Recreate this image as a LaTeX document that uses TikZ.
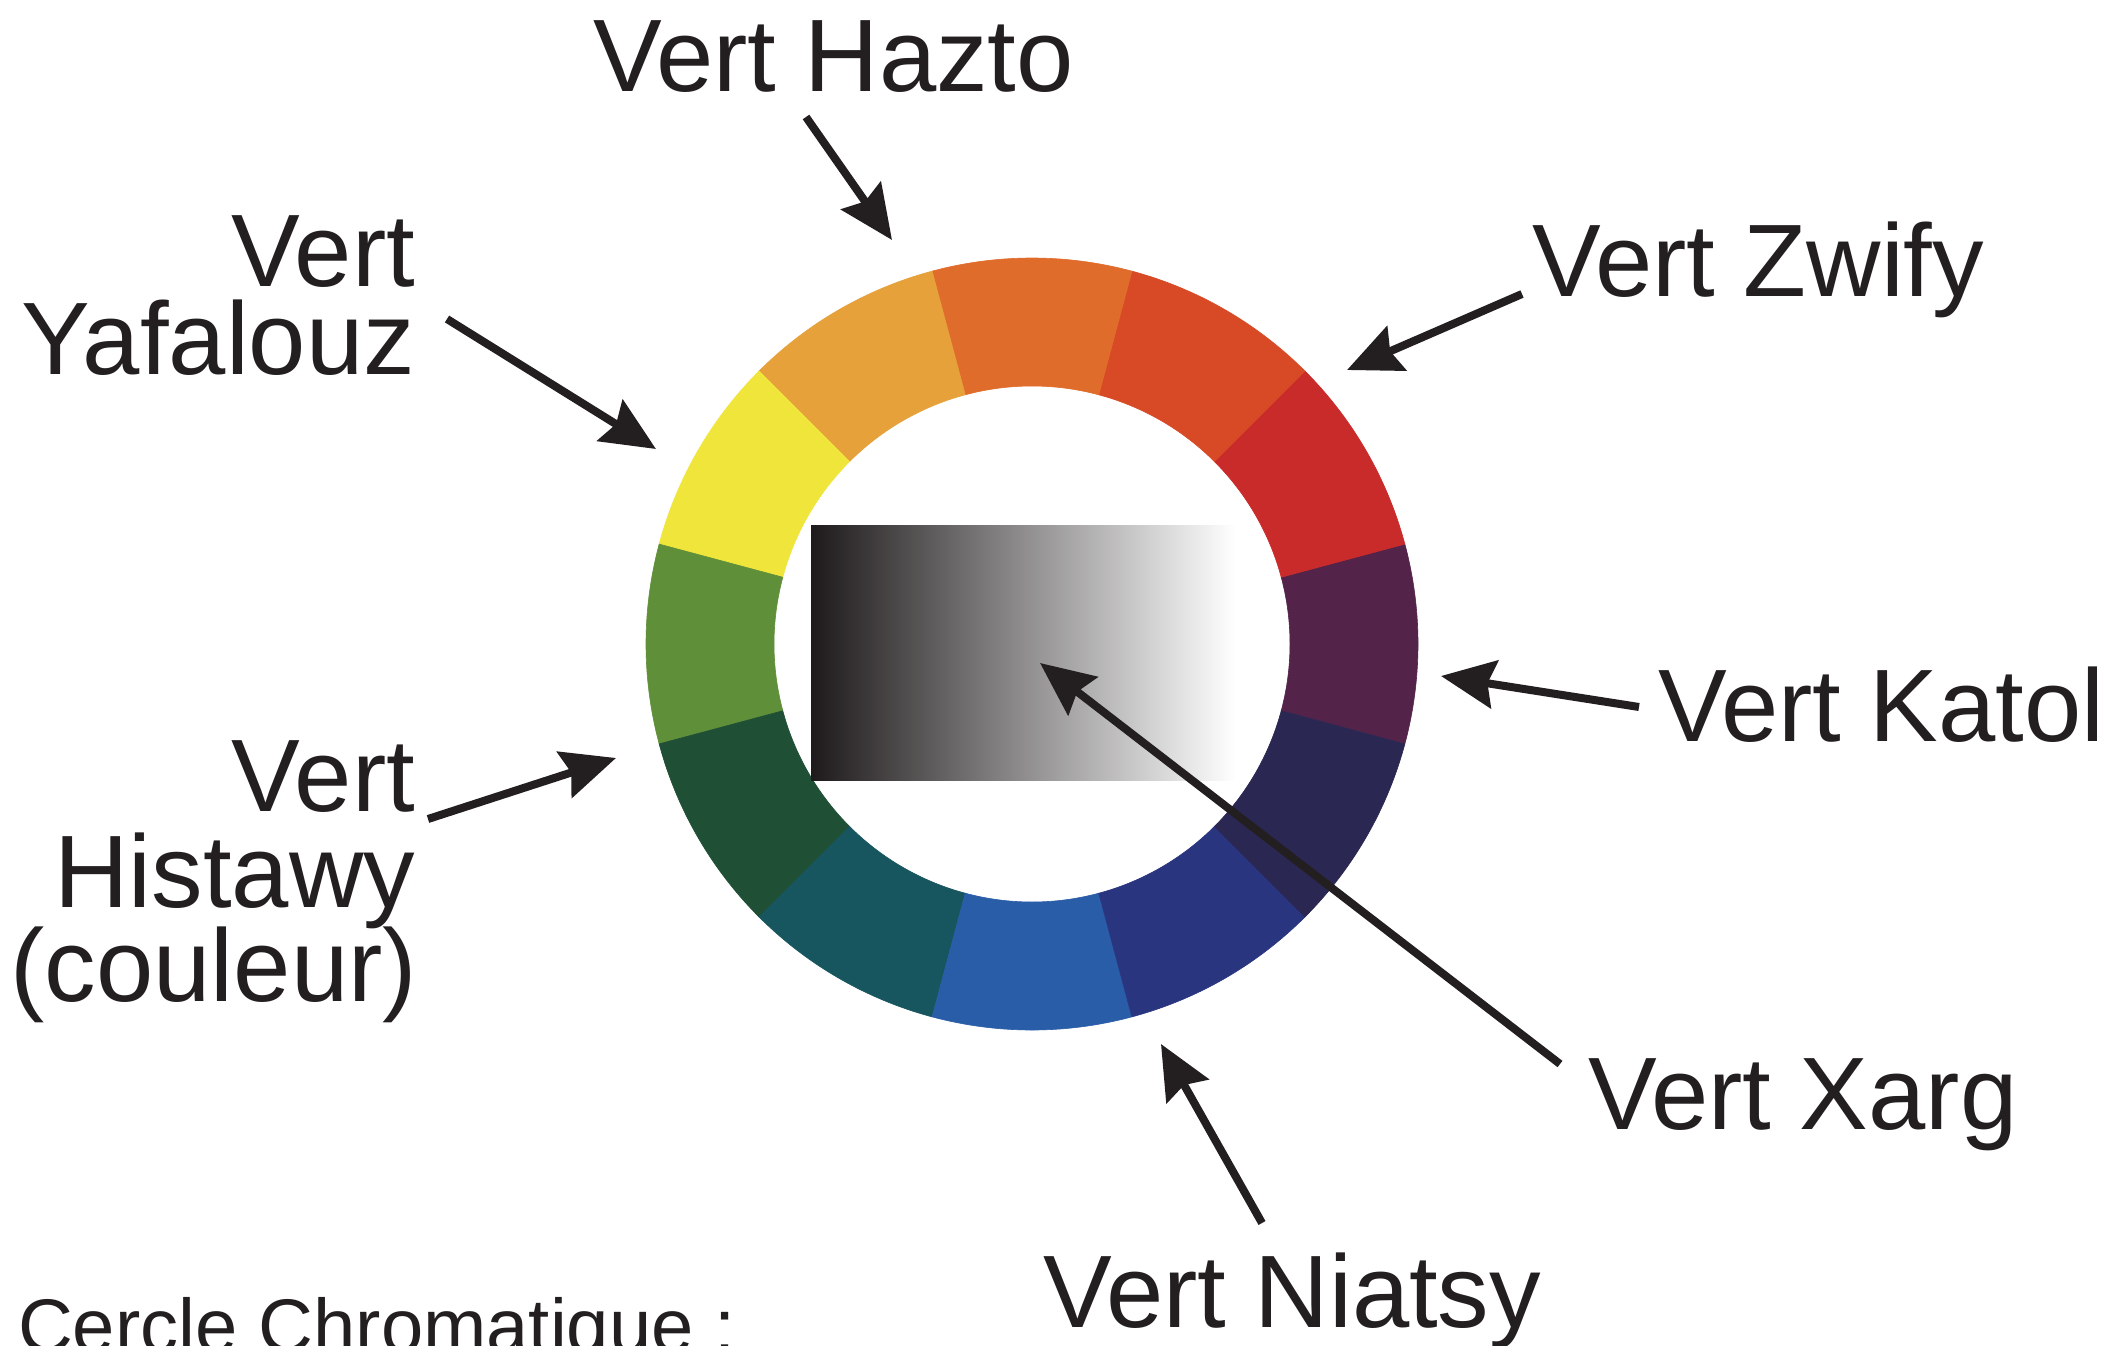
\documentclass[tikz,border=0pt]{standalone}
\usepackage{fontspec}
\setmainfont{Liberation Sans}
\usetikzlibrary{arrows.meta}
\definecolor{ink}{HTML}{231F20}
\definecolor{sA}{HTML}{54234A}
\definecolor{sB}{HTML}{C92A2A}
\definecolor{sC}{HTML}{D84A26}
\definecolor{sD}{HTML}{E06C2C}
\definecolor{sE}{HTML}{E6A13A}
\definecolor{sF}{HTML}{F0E53A}
\definecolor{sG}{HTML}{5F8F38}
\definecolor{sH}{HTML}{1F4F35}
\definecolor{sI}{HTML}{17555F}
\definecolor{sJ}{HTML}{2A5DA7}
\definecolor{sK}{HTML}{2A3580}
\definecolor{sL}{HTML}{2A2753}
\definecolor{gradL}{HTML}{1E1A1B}
\begin{document}
\begin{tikzpicture}[x=1pt,y=-1pt,
  lbl/.style={inner sep=0pt, outer sep=0pt, text=ink, font=\fontsize{103}{103}\selectfont},
  ptr/.style={draw=ink, line width=8pt, line cap=butt, -{Stealth[length=54pt,width=48pt,inset=7pt]}}]
\useasboundingbox[fill=white] (0,0) rectangle (2112,1346);

% colour wheel
\begin{scope}[shift={(1032,644)}, x=1pt, y=1pt]
  \foreach \c [count=\i from 0] in {sA,sB,sC,sD,sE,sF,sG,sH,sI,sJ,sK,sL}{
    \pgfmathsetmacro{\aa}{\i*30-15}
    \pgfmathsetmacro{\ab}{\i*30+15}
    \fill[\c, draw=\c, line width=0.6pt] (\aa:386pt) arc[start angle=\aa, end angle=\ab, radius=386pt]
      -- (\ab:258pt) arc[start angle=\ab, end angle=\aa, radius=258pt] -- cycle;
  }
\end{scope}

% grey gradient
\shade[left color=gradL, right color=white] (811,525) rectangle (1235,780);

% labels
\node[lbl, anchor=base west] (hazto) at (593,92) {Vert Hazto};
\node[lbl, anchor=base east] (yafA) at (415,286) {Vert};
\node[lbl, anchor=base east] (yafB) at (415,374) {Yafalouz};
\node[lbl, anchor=base west] (zwify) at (1532,296) {Vert Zwify};
\node[lbl, anchor=base west] (katol) at (1658,741) {Vert Katol};
\node[lbl, anchor=base west] (xarg) at (1588,1129) {Vert Xarg};
\node[lbl, anchor=base west] (niatsy) at (1043,1327) {Vert Niatsy};
\node[lbl, anchor=base east] (hisA) at (415,811) {Vert};
\node[lbl, anchor=base east] (hisB) at (415,907) {Histawy};
\node[lbl, anchor=base east] (hisC) at (417,1001) {(couleur)};
\node[lbl, anchor=base west, font=\fontsize{76}{76}\selectfont] (title) at (18,1352) {Cercle Chromatique :};

% arrow ends
\coordinate (haztoT) at (806,117);  \coordinate (haztoH) at (892,240);
\coordinate (yafT) at (447,319);    \coordinate (yafH) at (656,449);
\coordinate (zwifyT) at (1522,294); \coordinate (zwifyH) at (1347,370);
\coordinate (katolT) at (1639,707); \coordinate (katolH) at (1441,676);
\coordinate (xargT) at (1560,1064); \coordinate (xargH) at (1040,663);
\coordinate (niatsyT) at (1262,1223); \coordinate (niatsyH) at (1161,1044);
\coordinate (hisT) at (428,819);    \coordinate (hisH) at (616,758);

\draw[ptr] (haztoT) -- (haztoH);
\draw[ptr] (yafT) -- (yafH);
\draw[ptr] (zwifyT) -- (zwifyH);
\draw[ptr] (katolT) -- (katolH);
\draw[ptr] (xargT) -- (xargH);
\draw[ptr] (niatsyT) -- (niatsyH);
\draw[ptr] (hisT) -- (hisH);
\end{tikzpicture}
\end{document}
